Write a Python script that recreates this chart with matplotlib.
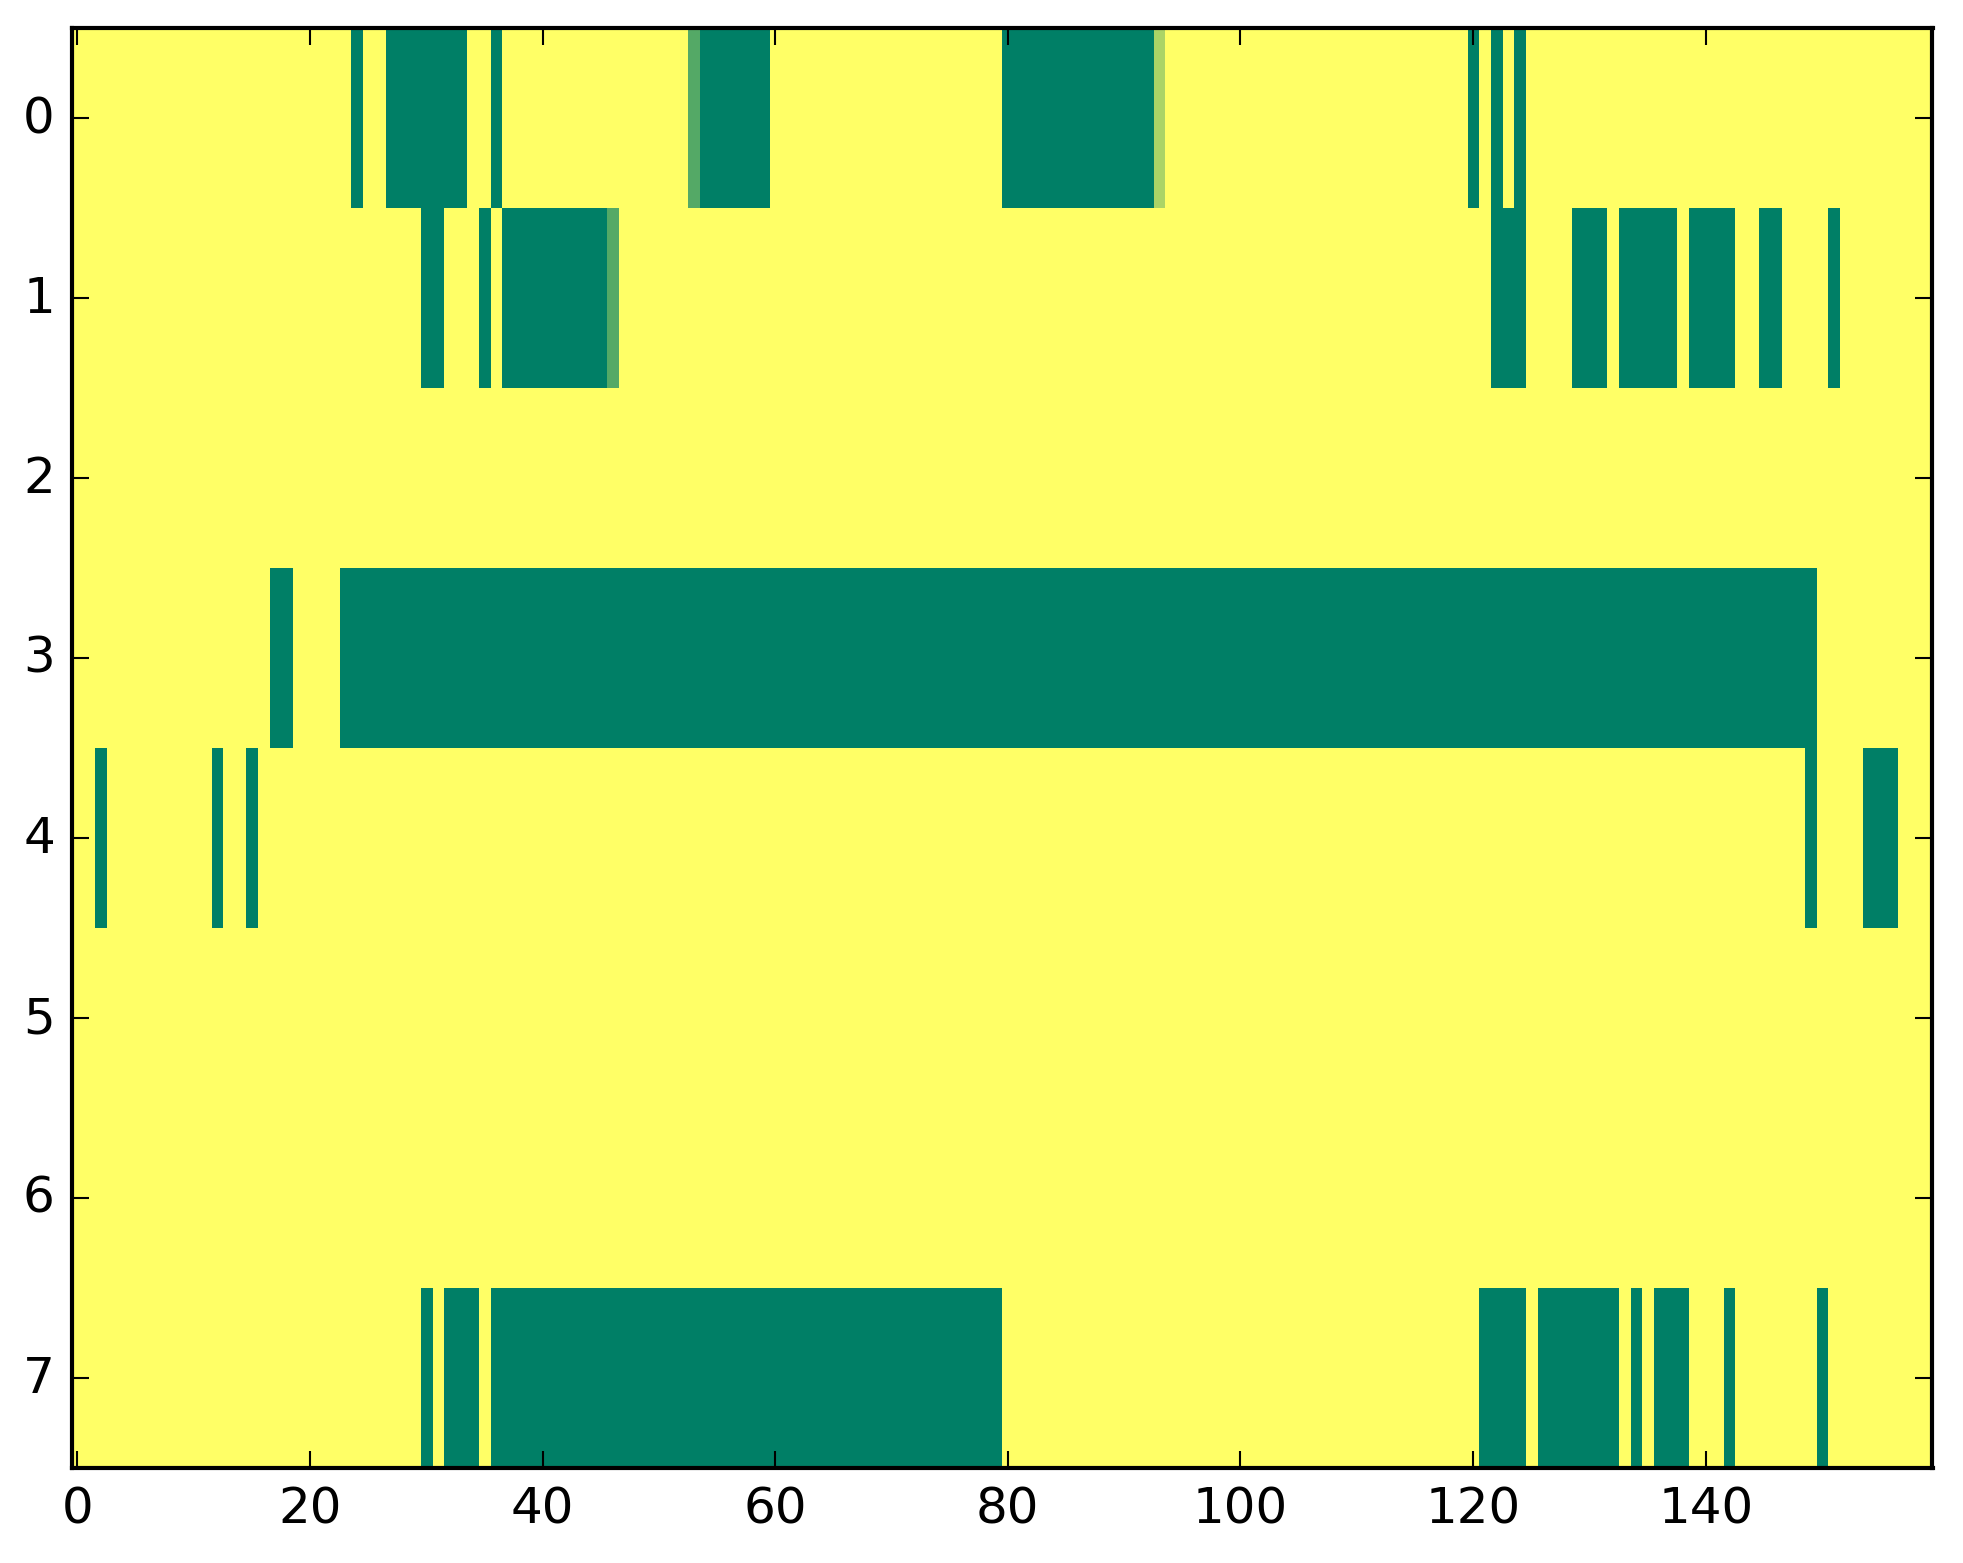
import numpy as np
import matplotlib
matplotlib.use("Agg")
import matplotlib.pyplot as plt

n_cols = 160
n_rows = 8

# green runs: (first column, last column, value)
# background cells are 1.0 (yellow)
row0 = [(24, 24, 0.0), (27, 33, 0.0), (36, 36, 0.0), (53, 53, 0.33), (54, 59, 0.0),
        (80, 92, 0.0), (93, 93, 0.67), (120, 120, 0.0), (122, 122, 0.0), (124, 124, 0.0)]
row1 = [(30, 31, 0.0), (35, 35, 0.0), (37, 45, 0.0), (46, 46, 0.33), (122, 124, 0.0),
        (129, 131, 0.0), (133, 137, 0.0), (139, 142, 0.0), (145, 146, 0.0), (151, 151, 0.0)]
row2 = []
row3 = [(17, 18, 0.0), (23, 149, 0.0)]
row4 = [(2, 2, 0.0), (12, 12, 0.0), (15, 15, 0.0), (149, 149, 0.0), (154, 156, 0.0)]
row5 = []
row6 = []
row7 = [(30, 30, 0.0), (32, 34, 0.0), (36, 79, 0.0), (121, 124, 0.0), (126, 132, 0.0),
        (134, 134, 0.0), (136, 138, 0.0), (142, 142, 0.0), (150, 150, 0.0)]

xticks = [0, 20, 40, 60, 80, 100, 120, 140]
yticks = [0, 1, 2, 3, 4, 5, 6, 7]

grid = np.ones((n_rows, n_cols))
for r, runs in enumerate([row0, row1, row2, row3, row4, row5, row6, row7]):
    for a, b, v in runs:
        grid[r, a:b + 1] = v

plt.style.use('classic')
plt.rcParams['savefig.facecolor'] = 'white'

dpi = 300
fig = plt.figure(figsize=(1963 / dpi, 1564 / dpi), dpi=dpi, facecolor='white')
ax = fig.add_axes([71.5 / 1963, 95 / 1564, 1861 / 1963, 1440 / 1564])

ax.imshow(grid, cmap='summer', vmin=0, vmax=1, aspect='auto', interpolation='nearest')
ax.set_xticks(xticks)
ax.set_yticks(yticks)
ax.set_xlim(-0.5, n_cols - 0.5)
ax.set_ylim(n_rows - 0.5, -0.5)
ax.tick_params(direction='in', top=True, right=True, labelsize=12)

fig.savefig('out.png', dpi=dpi, facecolor='white')
